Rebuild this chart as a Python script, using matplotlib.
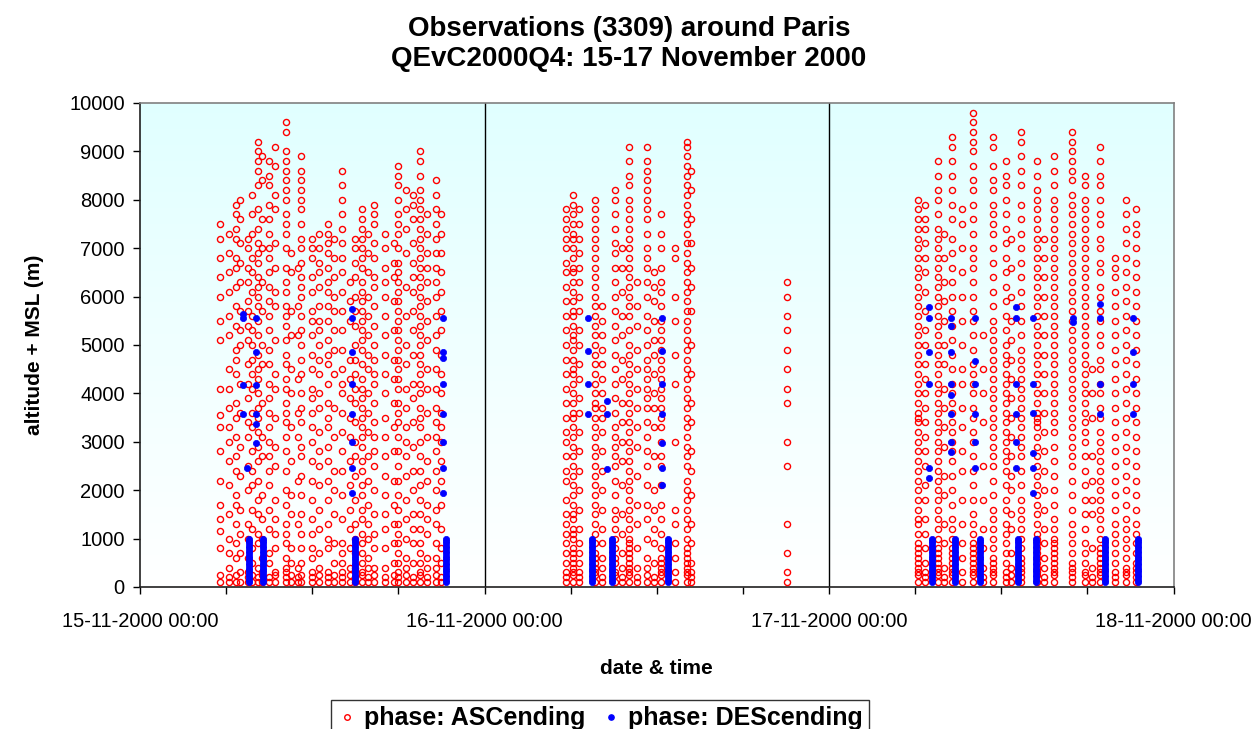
import matplotlib
matplotlib.use('Agg')
import matplotlib.pyplot as plt
import numpy as np
from matplotlib.lines import Line2D
from matplotlib.colors import LinearSegmentedColormap

plt.rcParams['font.family'] = ['Liberation Sans', 'DejaVu Sans']

# ---------------- data (hours since 15-11-2000 00:00, altitude in units of 100 m) -------------
asc_hours = [5.6, 6.2, 6.7, 7.0, 7.5, 7.8, 8.2, 8.5, 9.0, 9.4, 10.2, 10.5, 11.0, 11.2, 12.0, 12.5,
             13.1, 13.5, 14.1, 14.6, 15.0, 15.5, 15.9, 16.3, 17.1, 17.7, 18.0, 18.5, 19.0, 19.5,
             20.0, 20.6, 21.0,
             29.7, 30.2, 30.6, 31.7, 32.2, 33.1, 33.6, 34.1, 34.6, 35.3, 35.8, 36.3, 37.3, 38.1,
             38.4, 45.1,
             54.2, 54.7, 55.6, 56.0, 56.6, 57.3, 58.0, 58.7, 59.4, 60.3, 60.7, 61.4, 62.5, 63.0,
             63.7, 64.9, 65.8, 66.3, 66.9, 67.9, 68.7, 69.4]

asc_alts = [
    [1, 2.5, 8, 11.5, 14, 17, 22, 28, 33, 35.5, 41, 51, 55, 60, 64, 68, 72, 75],
    [1, 2, 4, 7, 10, 15, 21, 26, 30, 33, 37, 41, 45, 52, 56, 61, 65, 69, 73],
    [1, 2.5, 6, 9, 13, 17, 19, 24, 27, 31, 35, 38, 44, 47, 49, 54, 58, 62, 66, 68, 72, 74, 77, 79],
    [1, 3, 7, 11, 16, 23, 29, 36, 42, 50, 53, 57, 63, 67, 71, 76, 80],
    [1, 2, 3, 6, 10, 13, 20, 25, 31, 34, 39, 42, 46, 51, 54, 57, 59, 63, 66, 70, 72],
    [1, 2.5, 5, 8, 12, 16, 21, 24, 28, 33, 36, 41, 44, 47, 50, 53, 56, 61, 65, 68, 73, 77, 81],
    [1, 2, 4, 9, 11, 15, 18, 22, 26, 29, 32, 35, 37, 40, 43, 45, 48, 52, 55, 58, 60, 62, 64, 67,
     69, 71, 74, 78, 83, 86, 88, 90, 92],
    [1, 2.5, 3, 6, 10, 14, 19, 27, 31, 38, 46, 50, 57, 63, 70, 76, 84, 89],
    [1, 2, 5, 7, 12, 16, 21, 24, 27, 30, 33, 36, 39, 42, 46, 49, 53, 56, 59, 62, 65, 68, 70, 73,
     76, 79, 83, 85, 88],
    [1, 2.5, 3, 8, 11, 14, 18, 25, 29, 35, 41, 44, 51, 58, 61, 66, 71, 78, 81, 87, 91],
    [1, 2, 3, 4, 6, 9, 11, 13, 17, 20, 24, 28, 31, 34, 36, 38, 41, 43, 46, 48, 51, 54, 56, 58,
     61, 63, 66, 70, 73, 75, 77, 80, 82, 84, 86, 88, 90, 94, 96],
    [1, 2.5, 5, 8, 15, 19, 26, 33, 40, 45, 52, 57, 65, 69],
    [1, 2, 4, 13, 22, 31, 36, 43, 52, 58, 66],
    [1, 2.5, 5, 8, 11, 15, 19, 23, 27, 29, 34, 37, 40, 44, 47, 50, 53, 56, 60, 62, 64, 67, 70,
     72, 75, 78, 80, 82, 84, 86, 89],
    [1, 2, 3, 6, 8, 11, 14, 18, 22, 26, 30, 33, 36, 39, 41, 45, 48, 52, 55, 57, 61, 64, 68, 70, 72],
    [1, 2.5, 4, 7, 12, 16, 21, 25, 28, 32, 37, 40, 44, 47, 50, 53, 55, 58, 62, 65, 67, 70, 73],
    [1, 2, 3, 8, 10, 13, 18, 22, 26, 29, 33, 35, 38, 42, 46, 48, 51, 55, 58, 61, 63, 66, 69, 71,
     73, 75],
    [1, 2.5, 5, 9, 15, 20, 24, 31, 37, 44, 49, 53, 57, 60, 64, 68, 72],
    [1, 2, 3, 5, 7, 9, 14, 19, 24, 28, 32, 36, 40, 42, 45, 49, 53, 57, 61, 65, 68, 71, 74, 77,
     80, 83, 86],
    [1, 2.5, 4, 8, 12, 16, 21, 26, 31, 35, 39, 43, 47, 55, 59, 63],
    [1, 2, 4, 7, 10, 13, 18, 23, 27, 30, 34, 38, 41, 44, 47, 50, 54, 57, 60, 64, 67, 70, 72],
    [1, 2.5, 3, 5, 7, 9, 11, 14, 16, 19, 21, 24, 26, 29, 31, 33, 35, 37, 39, 41, 43, 46, 49, 51,
     53, 55, 57, 59, 61, 63, 66, 68, 70, 72, 74, 76, 78],
    [1, 2, 4, 6, 10, 13, 17, 22, 27, 32, 36, 40, 45, 48, 52, 56, 60, 65, 69, 73],
    [1, 2.5, 4, 8, 11, 15, 20, 25, 28, 31, 34, 38, 42, 44, 47, 50, 54, 58, 62, 64, 68, 71, 75,
     77, 79],
    [1, 2, 4, 8, 12, 15, 19, 23, 27, 31, 35, 40, 44, 48, 52, 56, 60, 63, 66, 70, 73],
    [1, 2.5, 5, 9, 13, 17, 22, 28, 33, 38, 43, 47, 53, 59, 64, 67, 71],
    [1, 2, 3, 5, 7, 9, 11, 13, 16, 19, 22, 25, 28, 31, 34, 36, 38, 41, 43, 45, 47, 49, 51, 53,
     55, 57, 59, 61, 63, 65, 67, 70, 73, 75, 77, 80, 83, 85, 87],
    [1, 2.5, 4, 6, 10, 14, 18, 23, 27, 30, 33, 37, 41, 46, 50, 56, 62, 69, 74, 78, 82],
    [1, 2, 5, 9, 12, 15, 20, 24, 29, 34, 39, 42, 48, 53, 57, 61, 64, 67, 71, 76, 79, 81],
    [1, 2.5, 3, 5, 7, 9, 12, 15, 18, 21, 24, 27, 30, 33, 35, 37, 40, 42, 44, 46, 48, 50, 52, 54,
     56, 58, 60, 62, 64, 66, 68, 70, 72, 74, 76, 78, 80, 82, 85, 88, 90],
    [1, 2, 4, 6, 11, 14, 17, 22, 26, 31, 36, 41, 45, 51, 55, 59, 63, 66, 69, 73, 77],
    [1, 2.5, 4, 6, 9, 13, 16, 20, 24, 28, 31, 34, 37, 41, 45, 49, 52, 56, 60, 63, 66, 69, 72, 75,
     78, 81, 84],
    [1, 2, 5, 8, 12, 17, 22, 26, 30, 33, 36, 40, 44, 48, 53, 57, 61, 65, 69, 73, 77],
    # day 2
    [1, 2, 3, 5, 7, 9, 11, 13, 15, 18, 22, 24, 27, 30, 32, 35, 38, 41, 44, 47, 50, 53, 56, 59,
     62, 65, 67, 70, 72, 74, 76, 78],
    [1, 2.5, 3, 4, 5, 6, 7, 8, 10, 11, 12, 14, 15, 17, 19, 21, 23, 25, 27, 29, 31, 33, 35, 36,
     38, 40, 42, 44, 45, 47, 49, 51, 52, 54, 56, 57, 59, 61, 63, 65, 66, 68, 70, 72, 73, 75, 77,
     79, 81],
    [1, 2, 3, 5, 7, 9, 12, 16, 20, 24, 28, 32, 36, 39, 43, 46, 50, 53, 57, 60, 63, 66, 69, 72,
     75, 78],
    [1, 2.5, 3, 4, 5, 6, 7, 9, 11, 13, 15, 17, 19, 21, 23, 25, 27, 29, 31, 33, 35, 37, 38, 40,
     42, 44, 46, 48, 50, 52, 54, 56, 58, 60, 62, 64, 66, 68, 70, 72, 74, 76, 78, 80],
    [1, 2, 4, 6, 9, 12, 16, 20, 24, 28, 32, 35, 37, 40, 43, 46, 49, 52, 55, 58],
    [1, 2.5, 3, 5, 6, 8, 10, 12, 14, 16, 19, 22, 25, 27, 29, 31, 33, 36, 39, 42, 45, 48, 51, 54,
     57, 60, 63, 66, 69, 71, 74, 77, 80, 82],
    [1, 2, 4, 7, 11, 15, 21, 26, 30, 34, 38, 43, 47, 52, 56, 61, 66, 70],
    [1, 2.5, 3, 4, 5, 6, 7, 8, 9, 10, 12, 14, 16, 18, 20, 22, 24, 26, 28, 30, 32, 34, 36, 38,
     40, 42, 44, 46, 48, 50, 53, 56, 58, 60, 62, 64, 66, 68, 70, 72, 74, 76, 78, 80, 83, 85, 88,
     91],
    [1, 2, 4, 8, 13, 17, 23, 29, 33, 37, 41, 45, 49, 54, 58, 63],
    [1, 2.5, 4, 6, 10, 14, 17, 21, 25, 28, 31, 34, 37, 39, 41, 43, 45, 47, 50, 53, 56, 60, 63,
     66, 68, 70, 73, 76, 78, 80, 82, 84, 86, 88, 91],
    [1, 2, 5, 9, 12, 16, 20, 27, 33, 37, 40, 44, 48, 51, 55, 59, 62, 65],
    [1, 2.5, 3, 4, 5, 6, 8, 11, 14, 17, 21, 25, 27, 30, 33, 35, 37, 39, 41, 43, 45, 47, 49, 51,
     53, 55, 58, 61, 63, 66, 70, 73, 77],
    [1, 3, 6, 9, 13, 16, 30, 42, 48, 55, 60, 68, 70],
    [1, 2.5, 3, 4, 5, 6, 7, 8, 10, 12, 14, 16, 18, 20, 22, 25, 27, 29, 31, 33, 35, 37, 39, 41,
     43, 45, 47, 49, 51, 53, 55, 57, 59, 61, 63, 65, 67, 69, 71, 73, 75, 77, 79, 81, 83, 85, 87,
     89, 91, 92],
    [1, 2, 3, 5, 9, 13, 19, 24, 28, 34, 38, 44, 50, 57, 62, 66, 71, 76, 82, 86],
    [1, 3, 7, 13, 25, 30, 38, 41, 45, 49, 53, 56, 60, 63],
    # day 3
    [1, 2.5, 3, 4, 5, 6, 7, 8, 9, 11, 13, 14, 16, 18, 20, 22, 24, 26, 28, 30, 32, 34, 35, 36,
     38, 40, 42, 44, 46, 48, 50, 52, 54, 56, 58, 60, 62, 64, 66, 68, 70, 72, 74, 76, 78, 80],
    [1, 2, 3, 5, 8, 11, 14, 18, 21, 25, 28, 31, 34, 37, 40, 43, 46, 50, 53, 57, 61, 65, 68, 71,
     74, 76, 79],
    [1, 2.5, 3, 4, 5, 6, 7, 8, 10, 12, 14, 16, 18, 20, 22, 24, 26, 28, 30, 32, 34, 36, 38, 40,
     42, 44, 46, 48, 50, 52, 54, 56, 58, 60, 62, 64, 66, 68, 70, 72, 74, 77, 80, 82, 85, 88],
    [1, 2, 4, 9, 13, 19, 23, 29, 33, 37, 41, 46, 50, 55, 59, 63, 68, 73],
    [1, 2.5, 3, 4, 5, 6, 7, 8, 10, 12, 14, 17, 20, 23, 26, 28, 30, 32, 34, 36, 38, 40, 42, 45,
     48, 51, 54, 57, 60, 63, 66, 69, 72, 76, 79, 82, 85, 88, 91, 93],
    [1, 3, 6, 9, 13, 18, 24, 28, 33, 37, 42, 45, 50, 55, 60, 65, 70, 75, 78],
    [1, 2.5, 3, 4, 5, 6, 7, 8, 9, 11, 13, 15, 18, 21, 24, 27, 30, 32, 35, 37, 40, 42, 44, 46,
     49, 52, 55, 57, 60, 63, 66, 68, 70, 73, 76, 79, 82, 84, 87, 90, 92, 94, 96, 98],
    [1, 2, 4, 8, 12, 18, 25, 34, 40, 45, 52],
    [1, 2.5, 3, 4, 5, 6, 8, 10, 12, 14, 16, 19, 22, 25, 27, 29, 31, 33, 35, 37, 39, 41, 43, 45,
     47, 49, 51, 53, 55, 58, 61, 64, 67, 70, 73, 75, 77, 79, 82, 84, 87, 91, 93],
    [1, 2, 3, 5, 7, 9, 11, 13, 16, 18, 21, 24, 26, 28, 30, 32, 34, 36, 38, 40, 42, 44, 46, 48,
     50, 53, 56, 59, 62, 65, 68, 71, 74, 77, 80, 83, 85, 88],
    [1, 2.5, 4, 7, 12, 15, 20, 23, 27, 31, 35, 39, 43, 47, 51, 55, 60, 66, 72],
    [1, 2, 3, 4, 5, 6, 8, 10, 12, 14, 16, 18, 21, 24, 27, 29, 31, 33, 35, 37, 39, 41, 43, 45,
     47, 49, 52, 55, 58, 61, 64, 67, 70, 73, 76, 79, 83, 86, 89, 92, 94],
    [1, 2.5, 3, 4, 5, 6, 7, 8, 9, 10, 11, 13, 15, 17, 19, 21, 23, 25, 27, 29, 31, 33, 34, 35,
     36, 38, 40, 42, 44, 46, 48, 50, 52, 54, 56, 58, 60, 62, 64, 66, 68, 70, 72, 74, 76, 78, 80,
     82, 85, 88],
    [1, 2, 4, 6, 9, 12, 16, 20, 24, 28, 32, 36, 40, 44, 48, 52, 56, 60, 64, 68, 72],
    [1, 2.5, 3, 4, 5, 6, 7, 8, 9, 10, 12, 14, 17, 20, 23, 26, 29, 32, 34, 36, 38, 40, 42, 44,
     46, 48, 50, 52, 54, 56, 58, 60, 62, 64, 66, 68, 70, 72, 74, 76, 78, 80, 83, 86, 89],
    [1, 2, 3, 4, 5, 7, 9, 11, 13, 16, 19, 22, 25, 27, 29, 31, 33, 35, 37, 39, 41, 43, 45, 47,
     49, 51, 53, 55, 57, 59, 61, 63, 65, 67, 69, 71, 73, 75, 77, 79, 81, 84, 86, 88, 90, 92, 94],
    [1, 2.5, 3, 5, 7, 9, 12, 15, 18, 21, 24, 27, 30, 32, 34, 36, 38, 40, 42, 44, 46, 48, 50, 52,
     54, 56, 58, 60, 62, 64, 66, 68, 70, 72, 74, 76, 78, 80, 83, 85],
    [1, 2, 4, 8, 15, 18, 22, 27, 35, 40, 45],
    [1, 2.5, 3, 4, 5, 6, 7, 8, 10, 12, 14, 16, 18, 20, 22, 24, 26, 28, 30, 32, 35, 37, 40, 42,
     45, 47, 50, 52, 55, 57, 60, 62, 65, 67, 70, 72, 75, 77, 80, 83, 85, 88, 91],
    [1, 2, 3, 5, 7, 9, 11, 13, 16, 19, 22, 25, 28, 31, 34, 37, 40, 43, 46, 49, 52, 55, 58, 61,
     64, 66, 68],
    [1, 2.5, 3, 4, 6, 8, 10, 12, 14, 17, 20, 23, 26, 29, 32, 35, 38, 41, 44, 47, 50, 53, 56, 59,
     62, 65, 68, 71, 74, 77, 80],
    [1, 2, 3, 4, 5, 7, 9, 11, 13, 16, 19, 22, 25, 28, 31, 34, 37, 40, 43, 46, 49, 52, 55, 58,
     61, 64, 67, 70, 73, 75, 78],
]

ground = [1, 1.5, 2, 2.5, 3, 3.5, 4, 4.5, 5, 5.5, 6, 6.5, 7, 7.5, 8, 8.5, 9, 9.5, 10]

desc_hours = [7.6, 8.6, 15.0, 21.3, 31.5, 32.9, 36.8, 55.2, 56.8, 58.5, 61.2, 62.4, 67.2, 69.5,
              7.2, 7.45, 8.1, 14.8, 21.1, 31.2, 32.5, 36.4, 55.0, 56.5, 58.2, 61.0, 62.2, 65.0,
              66.9, 69.2]
desc_alts = [ground] * 14 + [
    [56.5, 55.5, 41.7, 35.7],
    [24.5],
    [55.5, 48.6, 41.7, 35.7, 33.6, 29.7],
    [57.4, 55.5, 48.6, 41.9, 35.7, 29.9, 24.5, 19.4],
    [55.5, 48.5, 47.4, 41.9, 35.7, 29.9, 24.5, 19.4],
    [55.5, 48.75, 41.9, 35.7],
    [38.4, 35.7, 24.4],
    [55.5, 48.75, 41.9, 35.7, 29.8, 24.5, 21.0],
    [57.8, 55.5, 48.6, 41.9, 24.5, 22.6],
    [55.5, 54.0, 48.6, 41.9, 39.7, 35.7, 29.9, 27.8],
    [55.5, 46.7, 41.9, 35.7, 29.9, 24.5],
    [57.8, 55.5, 41.9, 35.7, 29.9, 24.5],
    [55.5, 41.9, 35.9, 27.6, 24.5, 19.4],
    [55.5, 54.8],
    [58.5, 55.5, 41.9, 35.7],
    [55.5, 48.5, 41.9, 35.7],
]

x_tick_hours = [0, 24, 48, 72]
x_tick_labels = ['15-11-2000 00:00', '16-11-2000 00:00', '17-11-2000 00:00', '18-11-2000 00:00']
y_ticks = [0, 1000, 2000, 3000, 4000, 5000, 6000, 7000, 8000, 9000, 10000]

# ---------------- figure -------------
W, H = 1258, 729
fig = plt.figure(figsize=(W / 100, H / 100), dpi=100)
ax = fig.add_axes([140 / W, 142 / H, 1033.5 / W, 484 / H])

# background gradient (light cyan top -> white bottom)
cmap = LinearSegmentedColormap.from_list('bg', [(1, 1, 1), (0.88, 1.0, 1.0)])
grad = np.linspace(0, 1, 256).reshape(-1, 1)
ax.imshow(grad, extent=[0, 72, 0, 10000], origin='lower', aspect='auto', cmap=cmap, zorder=0)

for xv in [24, 48]:
    ax.axvline(xv, color='black', lw=1.0, zorder=1)

ax_x = [h for h, col in zip(asc_hours, asc_alts) for _ in col]
ax_y = [a * 100 for col in asc_alts for a in col]
de_x = [h for h, col in zip(desc_hours, desc_alts) for _ in col]
de_y = [a * 100 for col in desc_alts for a in col]

ax.plot(ax_x, ax_y, 'o', ls='none', ms=4.4, mfc='none', mec='red', mew=1.0, zorder=3)
ax.plot(de_x, de_y, 'o', ls='none', ms=4.5, mfc='blue', mec='blue', mew=0.5, zorder=4)

ax.set_xlim(0, 72)
ax.set_ylim(0, 10000)
ax.set_xticks(x_tick_hours)
ax.set_xticklabels(x_tick_labels)
ax.set_xticks(np.arange(0, 73, 6), minor=True)
ax.set_yticks(y_ticks)
ax.set_yticklabels([str(v) for v in y_ticks])
ax.tick_params(axis='both', which='both', direction='out', length=5, width=1, colors='black')
ax.tick_params(axis='x', which='major', labelsize=14.5, pad=13)
ax.tick_params(axis='y', labelsize=14.5, pad=6)

for s in ['left', 'bottom']:
    ax.spines[s].set_color('#202020')
    ax.spines[s].set_linewidth(1.2)
for s in ['top', 'right']:
    ax.spines[s].set_color('#808080')
    ax.spines[s].set_linewidth(1.2)

ax.set_xlabel('date & time', fontsize=15, fontweight='bold', labelpad=20)
ax.set_ylabel('altitude + MSL (m)', fontsize=15, fontweight='bold', labelpad=18)

fig.text(0.5, 1 - 29 / H, 'Observations (3309) around Paris', ha='center', va='center',
         fontsize=20, fontweight='bold')
fig.text(0.5, 1 - 59 / H, 'QEvC2000Q4: 15-17 November 2000', ha='center', va='center',
         fontsize=20, fontweight='bold')

handles = [Line2D([], [], ls='none', marker='o', ms=4.0, mfc='none', mec='red', mew=1.0),
           Line2D([], [], ls='none', marker='o', ms=3.8, mfc='blue', mec='blue')]
leg = fig.legend(handles, ['phase: ASCending', 'phase: DEScending'], loc='upper center',
                 bbox_to_anchor=(600 / W, 1 - 700 / H), ncol=2, frameon=True, fancybox=False,
                 edgecolor='black', prop={'size': 18, 'weight': 'bold'}, handlelength=0.8,
                 handletextpad=0.3, columnspacing=0.6, borderpad=0.25, borderaxespad=0)
leg.get_frame().set_linewidth(1.0)

fig.savefig('out.png', dpi=100)
